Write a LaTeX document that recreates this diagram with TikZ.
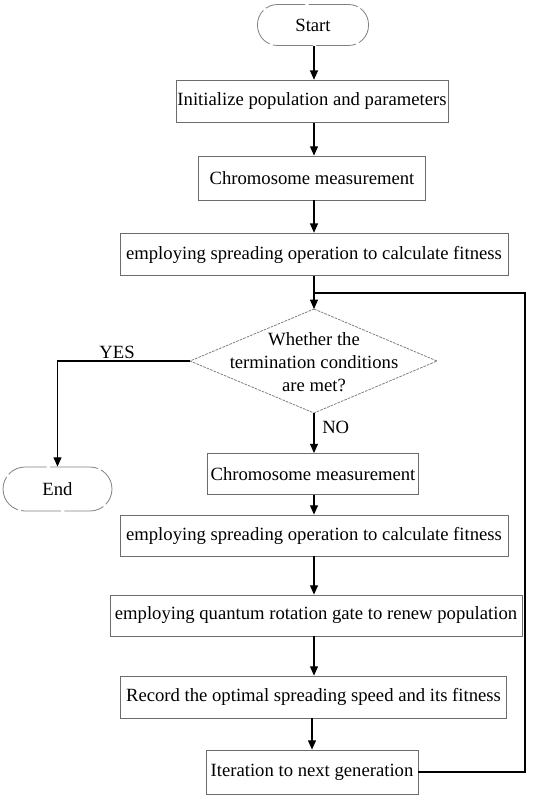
\documentclass[tikz,border=0pt]{standalone}
\usepackage{fontspec}
\setmainfont{Liberation Serif}
\usetikzlibrary{arrows.meta}
\begin{document}
\begin{tikzpicture}[x=0.75pt,y=-0.75pt,
  every node/.style={font=\fontsize{14}{17}\selectfont},
  box/.style={draw=gray!85!black, line width=0.6pt, rectangle, inner sep=0pt, minimum height=32pt},
  term/.style={draw=gray, line width=0.6pt, rounded corners=15pt, dash pattern=on 30pt off 2.5pt, inner sep=0pt},
  arr/.style={line width=0.9pt, -{Triangle[length=7pt,width=6pt]}},
  ln/.style={line width=0.9pt},
  lbl/.style={inner sep=0pt}
]
\useasboundingbox (0,0) rectangle (546,795);
% terminals
\node[term, minimum width=83.25pt, minimum height=30.75pt] (start) at (313,25) {Start};
\node[term, minimum width=81.75pt, minimum height=33pt, rounded corners=16.5pt] (endn) at (57.5,489) {End};
% boxes
\node[box, minimum width=204pt] (init) at (312,101.5) {Initialize population and parameters};
\node[box, minimum width=170pt, minimum height=33pt] (chrom1) at (312,178) {Chromosome measurement};
\node[box, minimum width=291pt] (emp1) at (314,254.5) {employing spreading operation to calculate fitness};
\node[box, minimum width=158.25pt, minimum height=30.75pt] (chrom2) at (313,474) {Chromosome measurement};
\node[box, minimum width=291pt, minimum height=30.75pt] (emp2) at (314,535.5) {employing spreading operation to calculate fitness};
\node[box, minimum width=309pt, minimum height=30.75pt] (quant) at (316,615.5) {employing quantum rotation gate to renew population};
\node[box, minimum width=290pt, minimum height=31.5pt] (rec) at (313.5,697) {Record the optimal spreading speed and its fitness};
\node[box, minimum width=159pt, minimum height=33pt] (iter) at (312,772) {Iteration to next generation};
% diamond
\coordinate (dT) at (314,309);
\coordinate (dB) at (314,413);
\coordinate (dL) at (190,361);
\coordinate (dR) at (437,361);
\draw[gray, line width=0.6pt, dash pattern=on 2pt off 0.8pt] (dT) -- (dR) -- (dB) -- (dL) -- cycle;
\node[align=center, inner sep=0pt] (cond) at (314,362) {Whether the\\termination conditions\\are met?};
% connectors
\coordinate (x0) at (314,0);
\draw[arr] (start.south -| x0) -- (x0 |- init.north);
\draw[arr] (init.south -| x0) -- (x0 |- chrom1.north);
\draw[arr] (chrom1.south -| x0) -- (x0 |- emp1.north);
\coordinate (merge) at (314,293);
\coordinate (loopR) at (525,293);
\draw[arr] (emp1.south -| dT) -- (dT);
\draw[ln] (iter.east) -| (loopR) -- (merge);
\draw[arr] (dL) -| (endn.north);
\node[lbl] (yes) at (117,352) {YES};
\draw[arr] (dB) -- (dB |- chrom2.north);
\node[lbl, anchor=west] (no) at (322,427) {NO};
\draw[arr] (chrom2.south -| dB) -- (dB |- emp2.north);
\draw[arr] (emp2.south -| x0) -- (x0 |- quant.north);
\draw[arr] (quant.south -| x0) -- (x0 |- rec.north);
\draw[arr] (rec.south -| iter.north) -- (iter.north);
\end{tikzpicture}
\end{document}
